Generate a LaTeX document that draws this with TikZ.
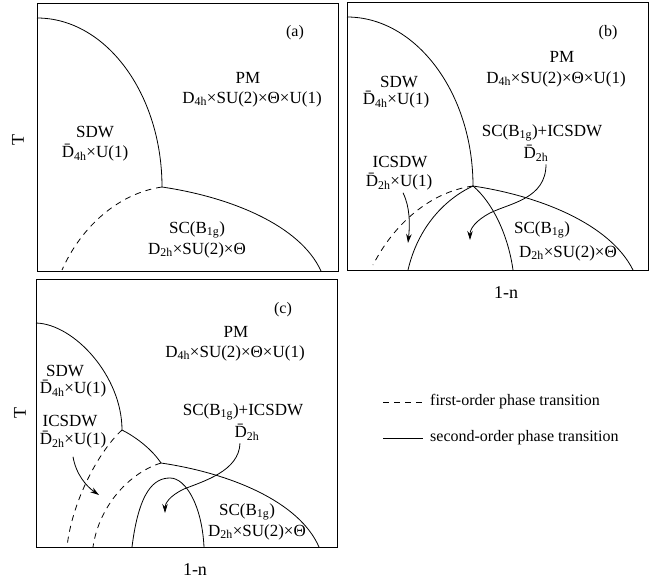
\documentclass[tikz,border=0pt]{standalone}
\usepackage{fontspec}
\setmainfont{Liberation Serif}
\usetikzlibrary{arrows.meta}

\newcommand{\Dbar}{\={D}}
\newcommand{\lsub}[1]{\textsubscript{#1}}

\tikzset{
  phase/.style={font=\fontsize{17}{20}\selectfont, inner sep=0pt},
  tag/.style={font=\fontsize{16}{19}\selectfont, inner sep=1pt},
  axis/.style={font=\fontsize{18}{21}\selectfont, inner sep=1pt},
  legend/.style={font=\fontsize{16}{19}\selectfont, inner sep=0pt},
  frame/.style={line width=1pt},
  second/.style={line width=0.8pt},
  first/.style={line width=0.8pt, dash pattern=on 6pt off 5pt},
  arr/.style={line width=0.8pt, -{Stealth[length=9pt,width=5.5pt]}},
}

\begin{document}
\begin{tikzpicture}[x=1pt,y=-1pt]
\useasboundingbox (0,0) rectangle (662,579);

% Panel (a)
\begin{scope}
  \draw[frame] (37,3) rectangle (338,271);
  \coordinate (ja) at (162,187);
  \draw[second] (37,18) .. controls (106,18) and (162,94) .. (ja);
  \draw[second] (ja) .. controls (230,197) and (300,225) .. (321,271);
  \draw[first] (ja) .. controls (120,193) and (82,225) .. (62,270);

  \node[tag] (taga) at (295,33) {(a)};
  \node[phase] (pma) at (248,78) {PM};
  \node[phase] (gpma) at (252,99) {D\lsub{4h}×SU(2)×Θ×U(1)};
  \node[phase] (sdwa) at (95,132) {SDW};
  \node[phase] (gsdwa) at (95,153) {\Dbar\lsub{4h}×U(1)};
  \node[phase] (sca) at (197,230) {SC(B\lsub{1g})};
  \node[phase] (gsca) at (197,250) {D\lsub{2h}×SU(2)×Θ};
  \node[axis, rotate=90] (ta) at (18,140) {T};
\end{scope}

% Panel (b)
\begin{scope}[shift={(310,-1)}]
  \draw[frame] (37,3) rectangle (338,271);
  \coordinate (jb) at (163,187);
  \draw[second] (37,18) .. controls (106,18) and (163,94) .. (jb);
  \draw[second] (jb) .. controls (230,197) and (300,225) .. (323,271);
  \draw[first] (jb) .. controls (120,193) and (84,225) .. (63,266);
  \draw[second] (98,271) .. controls (108,228) and (135,200) .. (jb);
  \draw[second] (jb) .. controls (182,203) and (198,235) .. (203,271);

  \node[tag] (tagb) at (298,34) {(b)};
  \node[phase] (pmb) at (252,58) {PM};
  \node[phase] (gpmb) at (246,80) {D\lsub{4h}×SU(2)×Θ×U(1)};
  \node[phase] (sdwb) at (89,83) {SDW};
  \node[phase] (gsdwb) at (86,101) {\Dbar\lsub{4h}×U(1)};
  \node[phase] (scicb) at (232,134) {SC(B\lsub{1g})+ICSDW};
  \node[phase] (dscicb) at (226,154) {\Dbar\lsub{2h}};
  \node[phase] (icb) at (90,163) {ICSDW};
  \node[phase] (gicb) at (89,183) {\Dbar\lsub{2h}×U(1)};
  \node[phase] (scb) at (232,231) {SC(B\lsub{1g})};
  \node[phase] (gscb) at (258,254) {D\lsub{2h}×SU(2)×Θ};
  \node[axis] (nb) at (196,294) {1-n};

  \coordinate (ab1) at (98,244);
  \coordinate (ab2) at (160,241);
  \draw[arr] ([xshift=4pt,yshift=-2pt]gicb.south) .. controls (100,208) and (100,225) .. (ab1);
  \draw[arr] ([xshift=10pt,yshift=-3pt]dscicb.south) .. controls (236,200) and (200,204) .. (180,214)
    .. controls (165,222) and (160,230) .. (ab2);
\end{scope}

% Panel (c)
\begin{scope}[shift={(-1,276)}]
  \draw[frame] (37,3) rectangle (338,271);
  \coordinate (jc1) at (123,154);
  \coordinate (jc2) at (162,187);
  \draw[second] (37,47) .. controls (75,48) and (123,100) .. (jc1);
  \draw[second] (jc1) .. controls (135,160) and (152,172) .. (jc2);
  \draw[second] (jc2) .. controls (230,197) and (300,225) .. (320,271);
  \draw[first] (jc1) .. controls (100,175) and (73,225) .. (68,271);
  \draw[first] (jc2) .. controls (130,197) and (100,230) .. (94,271);
  \draw[second] (133,271) .. controls (140,215) and (155,202) .. (171,202)
    .. controls (187,202) and (203,230) .. (205,271);

  \node[tag] (tagc) at (284,34) {(c)};
  \node[phase] (pmc) at (237,56) {PM};
  \node[phase] (gpmc) at (236,77) {D\lsub{4h}×SU(2)×Θ×U(1)};
  \node[phase] (sdwc) at (66,95) {SDW};
  \node[phase] (gsdwc) at (74,113) {\Dbar\lsub{4h}×U(1)};
  \node[phase] (icc) at (71,145) {ICSDW};
  \node[phase] (gicc) at (74,164) {\Dbar\lsub{2h}×U(1)};
  \node[phase] (scicc) at (244,136) {SC(B\lsub{1g})+ICSDW};
  \node[phase] (dscicc) at (248,156) {\Dbar\lsub{2h}};
  \node[phase] (scc) at (248,236) {SC(B\lsub{1g})};
  \node[phase] (gscc) at (258,256) {D\lsub{2h}×SU(2)×Θ};
  \node[axis] (nc) at (196,294) {1-n};
  \node[axis, rotate=90] (tc) at (21,137) {T};

  \coordinate (ac1) at (100,219);
  \coordinate (ac2) at (166,237);
  \draw[arr] ([yshift=-8pt]gicc.south) .. controls (77,198) and (87,210) .. (ac1);
  \draw[arr] ([xshift=-7pt,yshift=-3pt]dscicc.south) .. controls (240,195) and (205,205) .. (185,213)
    .. controls (170,220) and (166,228) .. (ac2);
\end{scope}

% Legend
\draw[first] (383,402) -- (423,402);
\node[legend, anchor=west] (lfirst) at (430,402) {first-order phase transition};
\draw[second] (383,438) -- (423,438);
\node[legend, anchor=west] (lsecond) at (430,438) {second-order phase transition};
\end{tikzpicture}
\end{document}
